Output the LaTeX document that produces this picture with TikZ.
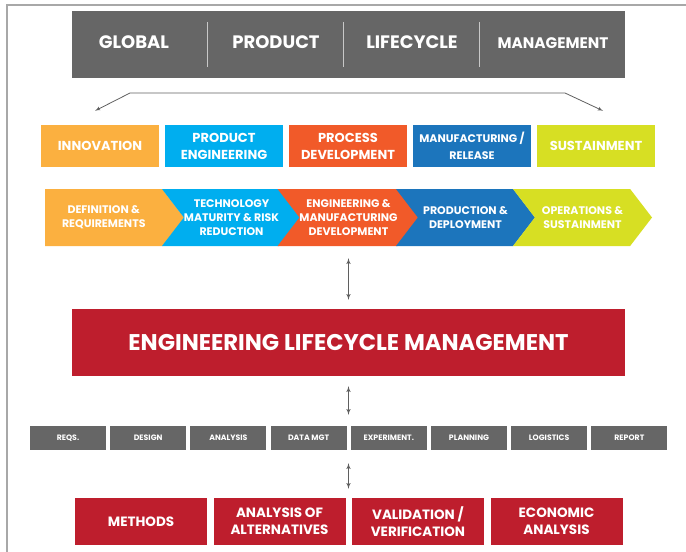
\documentclass[tikz,border=0pt]{standalone}
\usepackage{fontspec}
\setmainfont{Poppins}
\usepackage{tikz}
\usetikzlibrary{shapes,arrows,calc}

\definecolor{bannergray}{HTML}{666666}
\definecolor{framegray}{HTML}{A8A8A8}
\definecolor{dividergray}{HTML}{C8C8C8}
\definecolor{arrowgray}{HTML}{5F5F5F}
\definecolor{innovorange}{HTML}{FBB040}
\definecolor{prodcyan}{HTML}{00AEEF}
\definecolor{procred}{HTML}{F15A29}
\definecolor{manufblue}{HTML}{1C75BC}
\definecolor{sustlime}{HTML}{D7DF23}
\definecolor{elmred}{HTML}{BE1E2D}

\begin{document}
\begin{tikzpicture}[x=1pt, y=1pt, >=latex', font=\bfseries]
\tikzset{%
  areabox/.style = {%
    fill = #1,
    text = white,
    minimum width = 118pt,
    minimum height = 42pt,
    inner sep = 0pt,
    align = center,
    font = \bfseries\fontsize{13}{17}\selectfont
  },
  phase/.style = {%
    signal,
    signal to = east,
    signal from = west,
    signal pointer angle = 105,
    fill = #1,
    text = white,
    minimum width = 139pt,
    minimum height = 57pt,
    inner sep = 0pt,
    align = center,
    font = \bfseries\fontsize{11}{14}\selectfont
  },
  toolbox/.style = {%
    fill = bannergray,
    text = white,
    minimum width = 76pt,
    minimum height = 24pt,
    inner sep = 0pt,
    font = \bfseries\fontsize{7.8}{8}\selectfont
  },
  practice/.style = {%
    fill = elmred,
    text = white,
    minimum width = 132pt,
    minimum height = 47pt,
    inner sep = 0pt,
    align = center,
    font = \bfseries\fontsize{13.5}{17}\selectfont
  },
  banner/.style = {text = white, font = \bfseries\fontsize{18}{20}\selectfont},
  link/.style = {<->, draw = arrowgray, line width = 1pt}
}

  \useasboundingbox (0,0) rectangle (686,-552);
  \draw[framegray, line width = 2pt] (686,-5) -- (7,-5) -- (7,-552);

  % title banner
  \node[fill=bannergray, minimum width=553pt, minimum height=67pt]
    (glpm) at (348.5,-44.5) {};
  \node[banner] (global) at (134,-42) {GLOBAL};
  \node[banner] (product) at (276,-42) {PRODUCT};
  \node[banner] (lifecycle) at (412,-42) {LIFECYCLE};
  \node[banner, font=\bfseries\fontsize{15.3}{17}\selectfont]
    (management) at (553,-43) {MANAGEMENT};
  \foreach \dx in {136,272,408}
    \draw[dividergray, line width=1pt]
      ([xshift=\dx pt, yshift=-11pt]glpm.north west) --
      ([xshift=\dx pt, yshift=11pt]glpm.south west);

  % areas
  \node[areabox=innovorange] (innov) at (100,-146) {INNOVATION};
  \node[areabox=prodcyan, node distance=124pt, right of=innov]
    (prodeng) {PRODUCT\\ENGINEERING};
  \node[areabox=procred, node distance=124pt, right of=prodeng]
    (procdev) {PROCESS\\DEVELOPMENT};
  \node[areabox=manufblue, node distance=124pt, right of=procdev,
    font=\bfseries\fontsize{11}{17}\selectfont]
    (manuf) {MANUFACTURING /\\RELEASE};
  \node[areabox=sustlime, node distance=124pt, right of=manuf]
    (sustain) {SUSTAINMENT};

  \coordinate (bl) at (130,-93);
  \coordinate (br) at (565,-93);
  \draw[<->, draw=arrowgray, line width=0.8pt]
    ([shift={(-5,14)}]innov.north) -- (bl) -- (br) --
    ([shift={(7,14)}]sustain.north);

  % phases
  \node[phase=innovorange, signal from=nowhere, anchor=north west]
    (defreq) at (45,-189) {DEFINITION \&\\REQUIREMENTS};
  \node[phase=prodcyan] (techmat) at (231.5,-217.5)
    {TECHNOLOGY\\MATURITY \& RISK\\REDUCTION};
  \node[phase=procred, node distance=117pt, right of=techmat]
    (emd) {ENGINEERING \&\\MANUFACTURING\\DEVELOPMENT};
  \node[phase=manufblue, node distance=117pt, right of=emd]
    (proddep) {PRODUCTION \&\\DEPLOYMENT};
  \node[phase=sustlime, node distance=117pt, right of=proddep]
    (opsust) {OPERATIONS \&\\SUSTAINMENT};

  % engineering lifecycle management
  \node[fill=elmred, text=white, minimum width=553pt, minimum height=67pt,
    font=\bfseries\fontsize{22.7}{24}\selectfont]
    (elm) at (348.5,-342.5) {ENGINEERING LIFECYCLE MANAGEMENT};

  % tools
  \node[toolbox] (reqs) at (68,-438) {REQS.};
  \node[toolbox, node distance=80.2pt, right of=reqs] (design) {DESIGN};
  \node[toolbox, node distance=80.2pt, right of=design] (analysis) {ANALYSIS};
  \node[toolbox, node distance=80.2pt, right of=analysis] (datamgt) {DATA MGT};
  \node[toolbox, node distance=80.2pt, right of=datamgt] (experiment) {EXPERIMENT.};
  \node[toolbox, node distance=80.2pt, right of=experiment] (planning) {PLANNING};
  \node[toolbox, node distance=80.2pt, right of=planning] (logistics) {LOGISTICS};
  \node[toolbox, node distance=80.2pt, right of=logistics] (report) {REPORT};

  % practices
  \node[practice] (methods) at (141,-521.5) {METHODS};
  \node[practice, node distance=138.5pt, right of=methods]
    (alts) {ANALYSIS OF\\ALTERNATIVES};
  \node[practice, node distance=138.5pt, right of=alts]
    (valver) {VALIDATION /\\VERIFICATION};
  \node[practice, node distance=138.5pt, right of=valver]
    (econ) {ECONOMIC\\ANALYSIS};

  \draw[link, shorten <=12pt, shorten >=9pt] (elm.north |- emd.south) -- (elm.north);
  \draw[link, shorten <=10pt, shorten >=11pt] (elm.south) -- (elm.south |- datamgt.north);
  \draw[link, shorten <=13pt, shorten >=9pt] (elm.south |- datamgt.south) -- (elm.south |- alts.north);
\end{tikzpicture}
\end{document}
